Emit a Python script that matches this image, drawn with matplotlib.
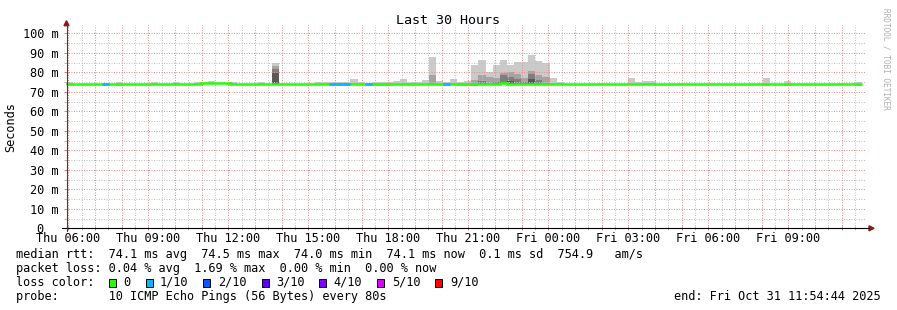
import numpy as np
import matplotlib
matplotlib.use("Agg")
import matplotlib.pyplot as plt
from matplotlib.patches import Rectangle, Polygon

W, H = 897, 310
MONO = "DejaVu Sans Mono"
FS = 8.55
plt.rcParams.update({"font.family": MONO, "font.size": FS})

# ---------------------------------------------------------------- data
BIN_H = 16 / 60          # rrd consolidation step: 16 minutes
HOUR0 = 5 + 54 / 60 + 44 / 3600   # graph start Thu 05:54:44

# median rtt per 16-min bin (ms)
med = [74.1, 74.1, 74.1, 73.8, 74.1, 73.8, 74.1, 73.8, 73.8, 74.1, 73.8, 74.1, 74.1, 74.1, 74.1, 74.1,
       73.8, 74.1, 74.1, 74.4, 74.4, 74.4, 74.4, 74.1, 74.1, 73.8, 73.8, 74.1, 74.1, 74.1, 73.8, 73.8,
       74.1, 74.1, 74.1, 74.1, 74.1, 73.8, 73.8, 73.8, 74.1, 74.1, 73.8, 73.8, 73.8, 73.8, 74.1, 74.1,
       73.8, 74.1, 74.1, 74.1, 74.1, 73.8, 74.1, 73.8, 73.8, 73.8, 74.1, 74.1, 74.1, 74.4, 74.1, 74.1,
       74.1, 74.1, 74.1, 74.1, 74.1, 74.1, 74.1, 74.1, 74.1, 74.1, 74.1, 74.1, 74.1, 74.1, 74.1, 74.1,
       74.1, 74.1, 74.1, 74.1, 74.1, 74.1, 74.1, 74.1, 74.1, 74.1, 73.8, 74.1, 73.8, 74.1, 73.8, 74.1,
       73.8, 73.8, 73.8, 73.8, 73.8, 73.8, 73.8, 74.1, 74.1, 73.8, 73.8, 74.1, 73.8, 73.8, 74.1, 73.8]
# lost pings out of 10 per bin
loss = [0] * 112
for b in (5, 37, 38, 39, 42, 53):
    loss[b] = 1

# smoke bands (top of band, ms); 0 = nothing visible above the median
smoke1 = [0.0] * 112
for b, v in {0: 75.0, 7: 74.9, 12: 75.0, 15: 75.0, 18: 75.0, 19: 75.2, 20: 75.6, 23: 75.0,
             27: 75.0, 29: 84.8, 35: 75.2, 36: 75.2, 37: 75.2, 38: 75.2, 39: 75.2, 40: 76.4,
             41: 75.0, 43: 75.1, 44: 75.1, 45: 75.1, 46: 75.5, 47: 76.6, 48: 75.0, 49: 75.2,
             50: 76.0, 51: 88.0, 52: 75.5, 53: 75.2, 54: 76.6, 55: 75.2, 56: 75.7, 57: 83.7,
             58: 86.2, 59: 80.0, 60: 83.7, 61: 86.2, 62: 83.7, 63: 85.1, 64: 85.1, 65: 88.9,
             66: 86.0, 67: 84.6, 68: 76.9, 69: 75.2, 79: 77.2, 80: 75.0, 81: 75.5, 82: 75.7,
             98: 77.2, 101: 75.5, 111: 75.0}.items():
    smoke1[b] = v
smoke2 = [0.0] * 112
for b, v in {29: 83.4, 51: 78.6, 57: 76.0, 58: 78.6, 59: 77.5, 60: 77.2, 61: 79.8, 62: 80.3,
             63: 79.1, 64: 76.9, 65: 80.8, 66: 78.6, 67: 77.7}.items():
    smoke2[b] = v
smoke3 = [0.0] * 112
for b, v in {29: 81.7, 58: 75.5, 60: 75.0, 61: 78.6, 62: 77.7, 63: 76.5, 64: 75.2, 65: 79.1,
             66: 75.8}.items():
    smoke3[b] = v
smoke4 = [0.0] * 112
for b, v in {29: 79.5, 61: 75.0, 62: 75.7, 65: 76.4}.items():
    smoke4[b] = v

SMOKE_COL = ["#cacaca", "#a4a4a4", "#7e7e7e", "#585858"]
LOSS_COL = ["#26ff00", "#00b8ff", "#0059ff", "#5e00ff", "#7e00ff", "#dd00ff", "#ff0000"]
LOSS_LBL = ["0", "1/10", "2/10", "3/10", "4/10", "5/10", "9/10"]

xlabels = ["Thu 06:00", "Thu 09:00", "Thu 12:00", "Thu 15:00", "Thu 18:00",
           "Thu 21:00", "Fri 00:00", "Fri 03:00", "Fri 06:00", "Fri 09:00"]
yticks = list(range(0, 101, 10))
ylabels = ["0  "] + [f"{v} m" for v in yticks[1:]]

# ---------------------------------------------------------------- figure
fig = plt.figure(figsize=(W / 100, H / 100), dpi=100)
fig.patch.set_facecolor("white")
x0, x1, y0, y1 = 66, 866, 228.3, 25.0
ax = fig.add_axes([x0 / W, (H - y0) / H, (x1 - x0) / W, (y0 - y1) / H])
ax.set_xlim(0, 30)
ax.set_ylim(0, (y0 - y1) / 1.95)
for s in ax.spines.values():
    s.set_visible(False)

edges = np.arange(len(med) + 1) * BIN_H
med_a = np.array(med)

# smoke
for col, layer in zip(SMOKE_COL, [smoke1, smoke2, smoke3, smoke4]):
    lay = np.array(layer)
    m = lay > 0
    ax.bar(edges[:-1][m], lay[m] - (med_a[m] - 0.6), bottom=med_a[m] - 0.6, width=BIN_H,
           align="edge", color=col, linewidth=0, zorder=2)

# grid (dotted, drawn over the smoke)
first = (6 - HOUR0)
hours = first + np.arange(0, 30)
hours = hours[hours < 30]
halfs = first - 0.5 + np.arange(0, 31)
halfs = halfs[(halfs > 0) & (halfs < 30)]
dots = (0, (1, 1.5))
GRID, MGRID = "#c2c2c2", "#e69090"
for h_ in halfs:
    ax.axvline(h_, color=GRID, lw=0.72, ls=dots, zorder=3)
for h_ in hours:
    ax.axvline(h_, color=MGRID, lw=0.72, ls=dots, zorder=3)
for v in range(5, 101, 10):
    ax.axhline(v, color=GRID, lw=0.72, ls=dots, zorder=3)
for v in range(10, 101, 10):
    ax.axhline(v, color=MGRID, lw=0.72, ls=dots, zorder=3)

# median line, coloured by loss
ax.stairs(med, edges, baseline=None, color=LOSS_COL[0], lw=1.8, zorder=4)
for b, l in enumerate(loss):
    if l:
        ax.hlines(med[b], edges[b], edges[b + 1], color=LOSS_COL[l], lw=1.8, zorder=5,
                  capstyle="butt")

# ticks
ax.set_xticks(hours)
ax.set_xticks(halfs, minor=True)
ax.tick_params(axis="x", which="major", direction="inout", length=3, width=0.72,
               color="#d08080", labelbottom=False)
ax.tick_params(axis="x", which="minor", direction="inout", length=3, width=0.72,
               color="#bbbbbb")
ax.set_yticks(yticks, ylabels)
ax.tick_params(axis="y", which="major", direction="inout", length=3, width=0.72,
               color="#d08080", pad=4.0, labelsize=FS)
ax.set_yticks(range(5, 101, 10), minor=True)
ax.tick_params(axis="y", which="minor", direction="inout", length=3, width=0.72,
               color="#bbbbbb")
for i, lab in enumerate(xlabels):
    ax.text(first + 3 * i, -10.3 / (y0 - y1), lab, transform=ax.get_xaxis_transform(),
            ha="center", va="center", fontsize=FS)

# axes with arrows (figure pixels)
def fx(px): return px / W
def fy(py): return (H - py) / H
fig.add_artist(plt.Line2D([fx(62), fx(869)], [fy(228.3), fy(228.3)], color="black", lw=0.8))
fig.add_artist(plt.Line2D([fx(66.5), fx(66.5)], [fy(231), fy(25)], color="#404040", lw=0.8))
fig.add_artist(Polygon([[fx(869), fy(225.8)], [fx(874), fy(228.3)], [fx(869), fy(230.8)]],
                       closed=True, color="#8b1a1a", transform=fig.transFigure))
fig.add_artist(Polygon([[fx(64), fy(25.7)], [fx(66.5), fy(20.7)], [fx(69), fy(25.7)]],
                       closed=True, color="#8b1a1a", transform=fig.transFigure))

# titles
fig.text(fx(448), fy(20), "Last 30 Hours", ha="center", va="center", fontsize=9.6)
fig.text(fx(11), fy(127), "Seconds", rotation=90, ha="center", va="center", fontsize=FS)
fig.text(fx(886), fy(59), "RRDTOOL / TOBI OETIKER", rotation=270, ha="center", va="center",
         fontsize=5.6, color="#b0b0b0")

# legend block
fig.text(fx(16), fy(254.3), "median rtt:  74.1 ms avg  74.5 ms max  74.0 ms min  "
         "74.1 ms now  0.1 ms sd  754.9   am/s", ha="left", va="center")
fig.text(fx(16), fy(268.3), "packet loss: 0.04 % avg  1.69 % max  0.00 % min  0.00 % now",
         ha="left", va="center")
fig.text(fx(16), fy(282.3), "loss color:", ha="left", va="center")
box_x = [108.7, 146, 203.3, 261.7, 319.3, 377.3, 435]
lbl_x = [123.3, 160, 218.3, 276, 333.3, 391.7, 450]
for bx, lx, c, t in zip(box_x, lbl_x, LOSS_COL, LOSS_LBL):
    fig.add_artist(Rectangle((fx(bx), fy(286.5)), 7 / W, 8 / H, facecolor=c,
                             edgecolor="black", lw=0.7, transform=fig.transFigure))
    fig.text(fx(lx), fy(282.3), t, ha="left", va="center")
fig.text(fx(16), fy(296.3), "probe:       10 ICMP Echo Pings (56 Bytes) every 80s",
         ha="left", va="center")
fig.text(fx(881), fy(296.3), "end: Fri Oct 31 11:54:44 2025", ha="right", va="center")

fig.savefig("out.png", dpi=100)
